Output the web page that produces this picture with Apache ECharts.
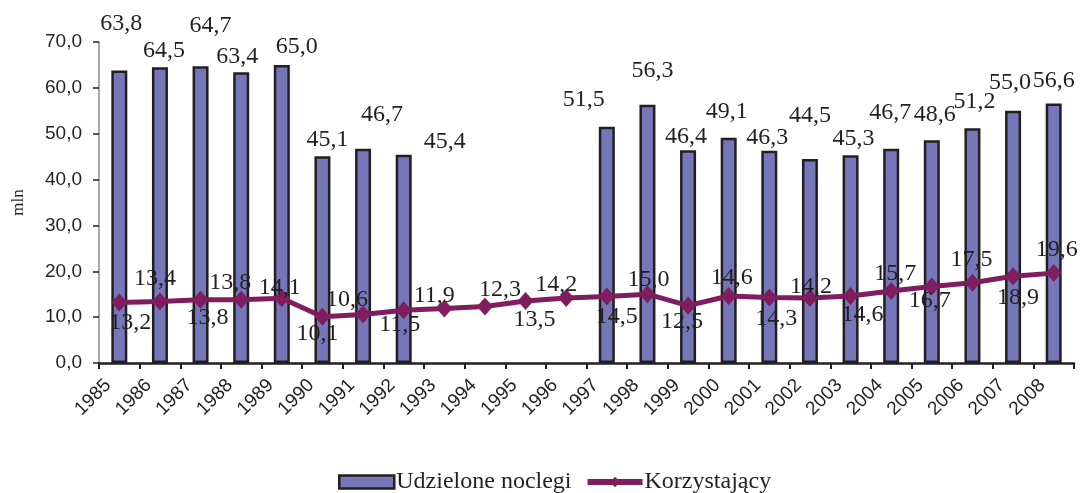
<!DOCTYPE html>
<html>
<head>
<meta charset="utf-8">
<script src="https://cdn.jsdelivr.net/npm/echarts@6/dist/echarts.min.js"></script>
<style>
  html, body { margin: 0; padding: 0; background: #fff; }
  #chart { width: 1081px; height: 493px; }
</style>
</head>
<body>
<div id="chart"></div>
<script>
// data
var years = ['1985', '1986', '1987', '1988', '1989', '1990', '1991', '1992', '1993', '1994', '1995', '1996',
  '1997', '1998', '1999', '2000', '2001', '2002', '2003', '2004', '2005', '2006', '2007', '2008'];
var noclegi = [63.8, 64.5, 64.7, 63.4, 65.0, 45.1, 46.7, 45.4, null, null, null, null,
  51.5, 56.3, 46.4, 49.1, 46.3, 44.5, 45.3, 46.7, 48.6, 51.2, 55.0, 56.6];
var korzystajacy = [13.2, 13.4, 13.8, 13.8, 14.1, 10.1, 10.6, 11.5, 11.9, 12.3, 13.5, 14.2,
  14.5, 15.0, 12.5, 14.6, 14.3, 14.2, 14.6, 15.7, 16.7, 17.5, 18.9, 19.6];
var yTicks = [0, 10, 20, 30, 40, 50, 60, 70];

// label placement (as in the original figure)
var barLabelOffset = [[2, -37], [4, -7], [10, -31], [-4, -6], [15, -8], [5, -6], [19, -24], [41, -3],
  null, null, null, null,
  [-23, -17], [5, -24], [-2, -4], [-2, -16], [-2, -3], [0, -33], [3, -7], [-1, -26], [3, -15], [2, -17], [-3, -18], [0, -13]];
var lineLabelOffset = [[11, 20], [-5, -23], [7, 18], [-11, -17], [-2, -11], [-5, 17], [-16, -15], [-4, 14],
  [-10, -13], [15, -17], [9, 19], [-10, -13], [10, 20], [1, -15], [-6, 16], [3, -18],
  [7, 21], [1, -11], [12, 19], [4, -17], [-2, 14], [-1, -23], [5, 21], [3, -23]];

function fmt(v) {
  return Number(v).toFixed(1).replace('.', ',');
}

var serif = '"Liberation Serif", "DejaVu Serif", serif';
var sans = '"Liberation Sans", Arial, sans-serif';

var barData = noclegi.map(function (v, i) {
  if (v == null) return '-';
  return {
    value: v,
    label: { offset: barLabelOffset[i] }
  };
});
var lineData = korzystajacy.map(function (v, i) {
  return {
    value: v,
    label: { offset: lineLabelOffset[i] }
  };
});

var chart = echarts.init(document.getElementById('chart'));

var option = {
  animation: false,
  backgroundColor: '#fff',
  grid: {
    left: 99,
    right: 7,
    top: 42,
    bottom: 130,
    containLabel: false
  },
  legend: {
    top: 470,
    left: 338,
    padding: 0,
    itemWidth: 55,
    itemHeight: 13,
    itemGap: 13,
    textStyle: { fontFamily: serif, fontSize: 24, color: '#231f20', padding: [0, 0, 0, -3] },
    data: [
      { name: 'Udzielone noclegi', icon: 'rect', itemStyle: { borderWidth: 2.5, borderColor: '#231f20' } },
      { name: 'Korzystający', lineStyle: { width: 6 }, itemStyle: { borderWidth: 0 } }
    ]
  },
  xAxis: {
    type: 'category',
    data: years,
    boundaryGap: true,
    axisLine: { lineStyle: { color: '#231f20', width: 2.5 } },
    axisTick: { show: true, interval: 0, length: 6, lineStyle: { color: '#231f20', width: 2 } },
    axisLabel: {
      interval: 0,
      rotate: 45,
      margin: 8,
      padding: [0, 16, 0, 0],
      fontFamily: sans,
      fontSize: 19,
      color: '#231f20'
    }
  },
  yAxis: {
    type: 'value',
    min: 0,
    max: 70,
    interval: 10,
    name: 'mln',
    nameLocation: 'middle',
    nameRotate: 90,
    nameGap: 72,
    nameTextStyle: { fontFamily: serif, fontSize: 17, color: '#231f20' },
    splitLine: { show: false },
    axisLine: { show: true, lineStyle: { color: '#8a8a8a', width: 1.5 } },
    axisTick: { show: true, length: 6, lineStyle: { color: '#231f20', width: 1.5 } },
    axisLabel: {
      margin: 17,
      fontFamily: sans,
      fontSize: 19,
      color: '#231f20',
      formatter: function (v) {
        return yTicks.indexOf(v) >= 0 ? fmt(v) : '';
      }
    }
  },
  series: [
    {
      name: 'Udzielone noclegi',
      type: 'bar',
      data: barData,
      barWidth: 16,
      itemStyle: { color: '#7577b9', borderColor: '#231f20', borderWidth: 2.5 },
      label: {
        show: true,
        position: 'top',
        distance: -2,
        fontFamily: serif,
        fontSize: 24,
        color: '#231f20',
        formatter: function (p) { return fmt(p.value); }
      },
      z: 1
    },
    {
      name: 'Korzystający',
      type: 'line',
      data: lineData,
      symbol: 'diamond',
      symbolSize: [16, 18],
      lineStyle: { color: '#7f1d5e', width: 5 },
      itemStyle: { color: '#7f1d5e' },
      label: {
        show: true,
        position: 'inside',
        fontFamily: serif,
        fontSize: 24,
        color: '#231f20',
        formatter: function (p) { return fmt(p.value); }
      },
      z: 3
    }
  ]
};

chart.setOption(option);
</script>
</body>
</html>
